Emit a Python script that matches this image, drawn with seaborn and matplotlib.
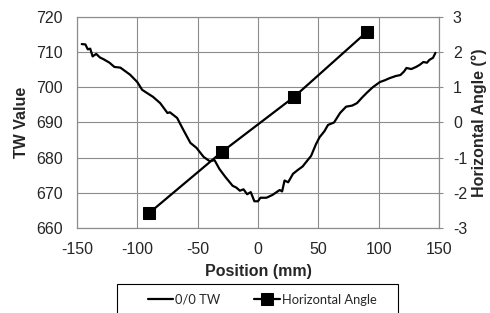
import matplotlib
matplotlib.use("Agg")
import matplotlib.pyplot as plt
from matplotlib.patches import Rectangle
import seaborn as sns
import pandas as pd

# данные
tw_pos = [-146, -143, -141, -139, -137, -134, -131, -128, -123, -119, -114, -110, -106, -100,
          -96, -92, -87, -81, -75, -73, -67, -62, -56, -51, -45, -40, -36, -32, -27, -21,
          -18, -15, -12, -9, -6, -3, 0, 2, 7, 12, 18, 20, 22, 25, 29, 33, 37, 40, 44, 48,
          51, 55, 58, 63, 68, 73, 78, 82, 86, 90, 95, 101, 105, 109, 114, 118, 121, 123,
          127, 131, 134, 137, 140, 142, 145, 147]
tw_val = [712.3, 712.2, 710.8, 711.0, 708.8, 709.5, 708.5, 708.0, 707.0, 705.8, 705.6, 704.6,
          703.6, 701.5, 699.3, 698.4, 697.3, 695.5, 692.7, 692.9, 691.3, 688.0, 684.2, 682.8,
          680.2, 679.0, 679.3, 676.8, 674.5, 672.0, 671.5, 670.6, 671.0, 669.6, 670.2, 667.6,
          667.6, 668.6, 668.6, 669.4, 670.8, 670.4, 673.5, 673.0, 675.4, 676.5, 677.5, 678.8,
          680.5, 683.8, 685.8, 687.5, 689.3, 690.0, 692.7, 694.5, 694.8, 695.5, 697.0, 698.4,
          700.0, 701.5, 702.0, 702.6, 703.2, 703.5, 704.5, 705.5, 705.2, 705.8, 706.4, 707.2,
          707.0, 707.8, 708.4, 709.8]

angle_pos = [-90, -30, 30, 90]
angle_val = [-2.57, -0.84, 0.73, 2.57]

x_ticks = [-150, -100, -50, 0, 50, 100, 150]
y_ticks = [660, 670, 680, 690, 700, 710, 720]
y2_ticks = [-3, -2, -1, 0, 1, 2, 3]

df_tw = pd.DataFrame({"pos": tw_pos, "tw": tw_val})
df_ang = pd.DataFrame({"pos": angle_pos, "angle": angle_val})

sns.set_style("white")
plt.rcParams["font.family"] = ["Liberation Sans", "DejaVu Sans"]
plt.rcParams["axes.unicode_minus"] = False

fig = plt.figure(figsize=(4.9, 3.13), dpi=100)
ax = fig.add_axes([0.157, 0.2716, 0.739, 0.6741])
ax2 = ax.twinx()

sns.lineplot(data=df_tw, x="pos", y="tw", ax=ax, color="black", linewidth=1.6,
             label="0/0 TW", legend=False)
sns.lineplot(data=df_ang, x="pos", y="angle", ax=ax2, color="black", linewidth=1.6,
             marker="s", markersize=9, markeredgecolor="black",
             label="Horizontal Angle", legend=False)

ax.set_xlim(-150, 150)
ax.set_ylim(660, 720)
ax2.set_ylim(-3, 3)
ax.set_xticks(x_ticks)
ax.set_yticks(y_ticks)
ax2.set_yticks(y2_ticks)

ax.grid(True, color="#8c8c8c", linewidth=0.8)
ax.set_axisbelow(True)
for a in (ax, ax2):
    for s in a.spines.values():
        s.set_color("#8c8c8c")
        s.set_linewidth(0.8)

ax.tick_params(axis="x", length=0, labelsize=11.5, pad=10)
ax.tick_params(axis="y", length=0, labelsize=11.5, pad=10)
ax2.tick_params(axis="y", length=3, color="#8c8c8c", labelsize=11.5, pad=7)

ax.set_xlabel("Position (mm)", fontsize=11.5, fontweight="bold", labelpad=5)
ax.set_ylabel("TW Value", fontsize=11.5, fontweight="bold", labelpad=5)
ax2.set_ylabel("Horizontal Angle (°)", fontsize=11.5, fontweight="bold", labelpad=3)

# рамка легенды, обрезанная нижним краем картинки
fig.patches.append(Rectangle((117 / 490, -0.05), 281 / 490, (313 - 284) / 313 + 0.05,
                             transform=fig.transFigure, fill=False,
                             edgecolor="black", linewidth=0.8))

h1, l1 = ax.get_legend_handles_labels()
h2, l2 = ax2.get_legend_handles_labels()
leg = fig.legend(h1 + h2, l1 + l2, loc="center", bbox_to_anchor=(0.535, 1 - 300 / 313),
                 ncol=2, frameon=False, handlelength=2.0, handletextpad=0.15,
                 columnspacing=2.6, borderpad=0.0,
                 prop={"family": ["Lato", "DejaVu Sans"], "size": 9.3})

fig.savefig("out.png", dpi=100)
